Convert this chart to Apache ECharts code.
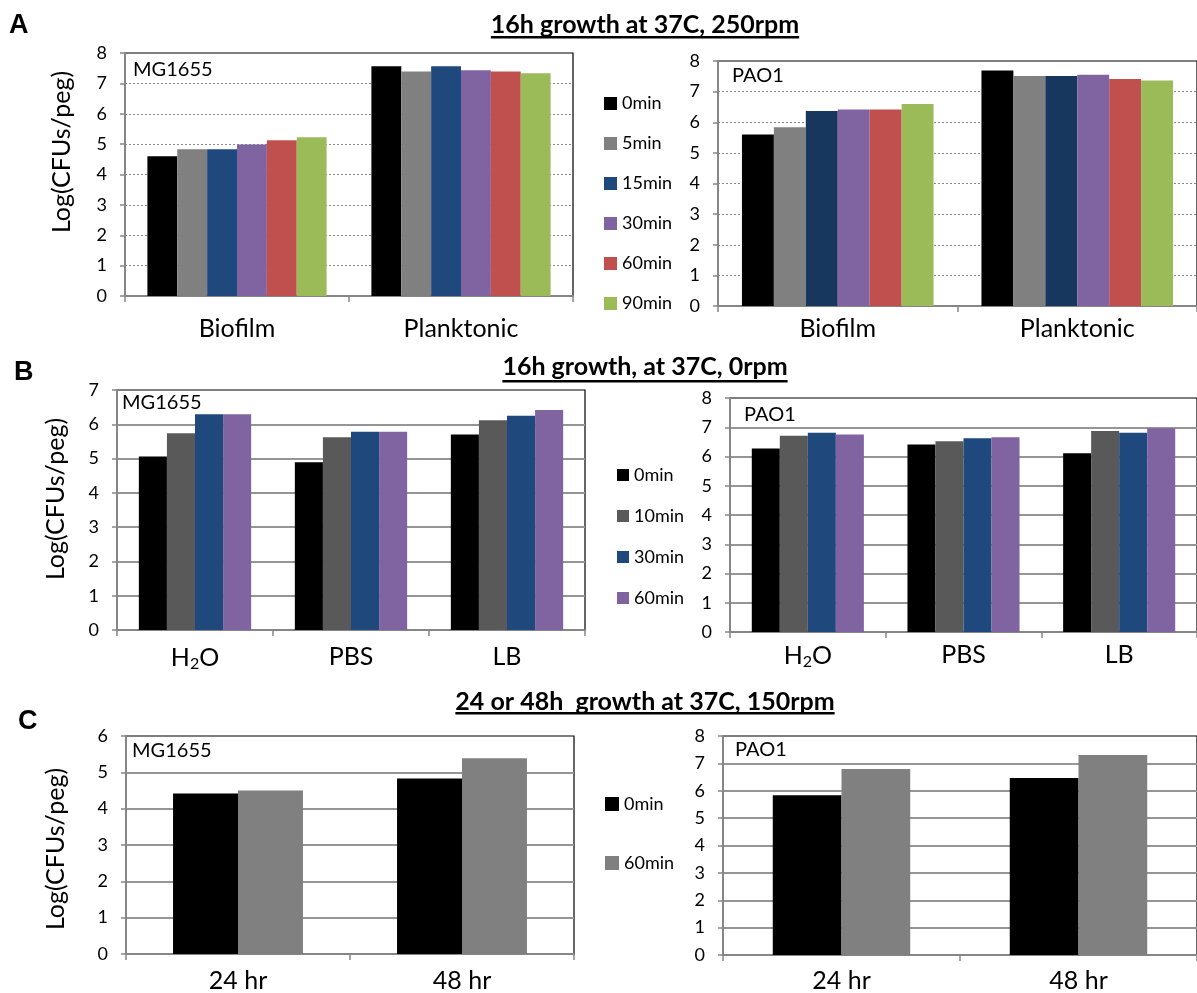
<!DOCTYPE html>
<html>
<head>
<meta charset="utf-8">
<script src="https://cdn.jsdelivr.net/npm/echarts@6/dist/echarts.min.js"></script>
<style>
  html, body { margin: 0; padding: 0; background: #fff; }
  #chart { width: 1197px; height: 993px; }
</style>
</head>
<body>
<div id="chart"></div>
<script>
// ---- data: Log(CFUs/peg) per strain, condition and exposure time ----
// Panel A: 16h growth at 37C, 250rpm
const catsA = ['Biofilm', 'Planktonic'];
const timesA = ['0min', '5min', '15min', '30min', '60min', '90min'];
const mgA = [[4.60, 7.56], [4.83, 7.39], [4.83, 7.56], [4.99, 7.43], [5.13, 7.39], [5.23, 7.33]];
const paoA = [[5.60, 7.69], [5.84, 7.51], [6.37, 7.51], [6.42, 7.55], [6.42, 7.41], [6.60, 7.36]];

// Panel B: 16h growth, at 37C, 0rpm
const catsB = ['H2O', 'PBS', 'LB'];
const timesB = ['0min', '10min', '30min', '60min'];
const mgB = [[5.06, 4.89, 5.70], [5.74, 5.62, 6.12], [6.29, 5.78, 6.25], [6.29, 5.78, 6.42]];
const paoB = [[6.27, 6.41, 6.11], [6.71, 6.52, 6.87], [6.81, 6.62, 6.81], [6.75, 6.66, 6.97]];

// Panel C: 24 or 48h growth at 37C, 150rpm
const catsC = ['24 hr', '48 hr'];
const timesC = ['0min', '60min'];
const mgC = [[4.42, 4.83], [4.50, 5.39]];
const paoC = [[5.84, 6.47], [6.79, 7.31]];

const titleA = '16h growth at 37C, 250rpm';
const titleB = '16h growth, at 37C, 0rpm';
const titleC = '24 or 48h  growth at 37C, 150rpm';
const yName = 'Log(CFUs/peg)';

// ---- styling ----
const FONT = 'Lato, "Open Sans", sans-serif';
const colorsA = ['#000000', '#808080', '#1F497D', '#8064A2', '#C0504D', '#9BBB59'];
const colorsA2 = ['#000000', '#808080', '#17375E', '#8064A2', '#C0504D', '#9BBB59'];
const colorsB = ['#000000', '#595959', '#1F497D', '#8064A2'];
const colorsC = ['#000000', '#808080'];
const AXIS_GREY = '#868686';
const CAT_SIZE = 25;

const charts = [
  { key: 'A', cats: catsA, times: timesA, colors: colorsA, rows: mgA, label: 'MG1655',
    grid: { left: 125, top: 53, width: 448, height: 243 }, max: 8, gap: '20%', dotted: true, xMargin: 20 },
  { key: 'A', cats: catsA, times: timesA, colors: colorsA2, rows: paoA, label: 'PAO1',
    grid: { left: 718, top: 61, width: 488, height: 245 }, max: 8, gap: '20%', dotted: true, xMargin: 10 },
  { key: 'B', cats: catsB, times: timesB, colors: colorsB, rows: mgB, label: 'MG1655',
    grid: { left: 117, top: 390, width: 468, height: 240 }, max: 7, gap: '28%', dotted: false, xMargin: 14 },
  { key: 'B', cats: catsB, times: timesB, colors: colorsB, rows: paoB, label: 'PAO1',
    grid: { left: 730, top: 398, width: 477, height: 234 }, max: 8, gap: '28%', dotted: false, xMargin: 10 },
  { key: 'C', cats: catsC, times: timesC, colors: colorsC, rows: mgC, label: 'MG1655',
    grid: { left: 126, top: 736, width: 448, height: 218 }, max: 6, gap: '42%', dotted: false, xMargin: 14 },
  { key: 'C', cats: catsC, times: timesC, colors: colorsC, rows: paoC, label: 'PAO1',
    grid: { left: 723, top: 736, width: 476, height: 220 }, max: 8, gap: '42%', dotted: false, xMargin: 13 }
];

const grids = [], xAxes = [], yAxes = [], series = [];
charts.forEach((c, i) => {
  grids.push(Object.assign({ show: true, borderColor: '#000', borderWidth: 1.2, containLabel: false }, c.grid));
  xAxes.push({
    type: 'category', gridIndex: i, data: c.cats,
    axisLine: { lineStyle: { color: AXIS_GREY, width: 2 } },
    axisTick: { show: true, length: 6, lineStyle: { color: AXIS_GREY, width: 1.5 } },
    axisLabel: {
      interval: 0, margin: c.xMargin, color: '#000', fontFamily: FONT, fontSize: CAT_SIZE,
      formatter: v => v === 'H2O' ? '{n|H}{s|2}{n|O}' : v,
      rich: {
        n: { fontFamily: FONT, fontSize: CAT_SIZE, color: '#000', padding: [0, 0, 0, 0] },
        s: { fontFamily: FONT, fontSize: 16, color: '#000', padding: [12, 0, 0, 0] }
      }
    }
  });
  yAxes.push({
    type: 'value', gridIndex: i, min: 0, max: c.max, interval: 1,
    axisLine: { show: true, lineStyle: { color: AXIS_GREY, width: 2 } },
    axisTick: { show: true, length: 5, lineStyle: { color: AXIS_GREY, width: 1.5 } },
    axisLabel: { margin: 18, color: '#000', fontFamily: FONT, fontSize: 18 },
    splitLine: {
      show: true, showMinLine: false, showMaxLine: false,
      lineStyle: c.dotted ? { color: '#8a8a8a', width: 1, type: [2, 2] } : { color: '#959595', width: 1.8 }
    }
  });
  c.times.forEach((t, j) => {
    series.push({
      type: 'bar', name: c.key + ':' + t, xAxisIndex: i, yAxisIndex: i,
      data: c.rows[j], barGap: 0, barCategoryGap: c.gap,
      itemStyle: { color: c.colors[j] }, emphasis: { disabled: true }
    });
  });
});

function legendFor(key, times, left, top, size, gap) {
  return {
    orient: 'vertical', left: left, top: top, padding: 0,
    itemWidth: size, itemHeight: size, itemGap: gap, icon: 'rect',
    data: times.map(t => key + ':' + t),
    formatter: n => n.split(':')[1],
    selectedMode: false,
    textStyle: { fontFamily: FONT, fontSize: 18, color: '#000', lineHeight: size }
  };
}

function textWidth(str, font) {
  const ctx = document.createElement('canvas').getContext('2d');
  ctx.font = font;
  return ctx.measureText(str).width;
}

const TITLE_FONT = 'bold 25px ' + FONT;
const graphics = [];
[[titleA, 25, 37], [titleB, 367, 381], [titleC, 702, 713]].forEach(([t, y, uy]) => {
  const w = textWidth(t, TITLE_FONT);
  graphics.push({ type: 'text', x: 645, y: y, style: { text: t, font: TITLE_FONT, fill: '#000', textAlign: 'center', textVerticalAlign: 'middle' } });
  graphics.push({ type: 'rect', shape: { x: 645 - w / 2, y: uy - 1, width: w, height: 2.4 }, style: { fill: '#000' } });
});
[['A', 9, 26], ['B', 14, 373], ['C', 18, 722]].forEach(([t, x, y]) => {
  graphics.push({ type: 'text', x: x, y: y, style: { text: t, font: 'bold 27px "Liberation Sans", Arial, sans-serif', fill: '#000', textVerticalAlign: 'middle' } });
});
[[62, 152], [56, 499], [56, 849]].forEach(([x, y]) => {
  graphics.push({ type: 'text', x: x, y: y, rotation: Math.PI / 2, style: { text: yName, font: '25px ' + FONT, fill: '#000', textAlign: 'center', textVerticalAlign: 'middle' } });
});
[[133, 70], [732, 76], [122, 403], [744, 415], [132, 751], [735, 750]].forEach(([x, y], i) => {
  graphics.push({ type: 'text', x: x, y: y, z: 10, style: { text: charts[i].label, font: '20px ' + FONT, fill: '#000', textVerticalAlign: 'middle' } });
});

const chart = echarts.init(document.getElementById('chart'));
chart.setOption({
  backgroundColor: '#fff',
  animation: false,
  grid: grids,
  xAxis: xAxes,
  yAxis: yAxes,
  series: series,
  legend: [
    legendFor('A', timesA, 604, 94.5, 13, 22),
    legendFor('B', timesB, 617, 466, 12, 23),
    legendFor('C', timesC, 605, 795, 14, 41)
  ],
  graphic: graphics
});
</script>
</body>
</html>
